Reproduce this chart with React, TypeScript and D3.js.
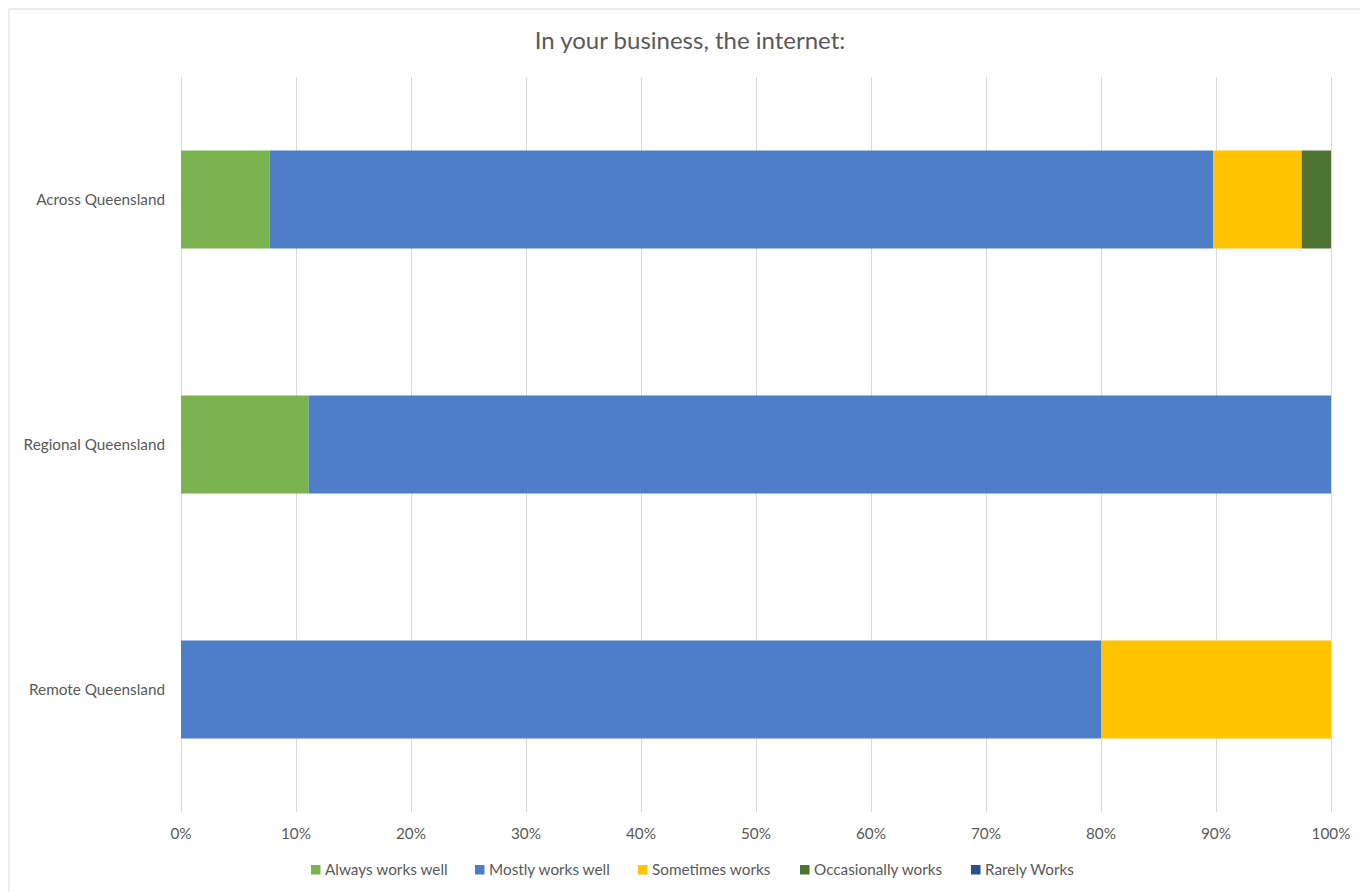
import React from "react";
import * as d3 from "d3";

const categories = ["Across Queensland", "Regional Queensland", "Remote Queensland"];
const seriesNames = ["Always works well", "Mostly works well", "Sometimes works", "Occasionally works", "Rarely Works"];
const alwaysWorksWell = [7.7, 11.1, 0];
const mostlyWorksWell = [82.05, 88.9, 80];
const sometimesWorks = [7.7, 0, 20];
const occasionallyWorks = [2.55, 0, 0];
const rarelyWorks = [0, 0, 0];
const xTicks = [0, 10, 20, 30, 40, 50, 60, 70, 80, 90, 100];
const colors = ["#7BB351", "#4E7EC8", "#FFC300", "#4D7433", "#2B4E8C"];

const W = 1360;
const H = 892;
const FONT = "Lato, 'Open Sans', sans-serif";
const TXT = "#595959";

export default function App() {
  const seriesValues = [alwaysWorksWell, mostlyWorksWell, sometimesWorks, occasionallyWorks, rarelyWorks];
  const rows = categories.map((c, i) => {
    const r: any = { cat: c };
    seriesNames.forEach((s, j) => (r[s] = seriesValues[j][i]));
    return r;
  });
  const stacked = d3.stack<any>().keys(seriesNames)(rows);
  const x = d3.scaleLinear().domain([0, 100]).range([181, 1331]);
  const y = d3.scaleBand().domain(categories).range([77, 812]).paddingInner(0.6).paddingOuter(0.3);

  const legendItems = seriesNames.map((s, i) => ({ s, c: colors[i] }));
  const legendX = [311, 475, 638, 800, 971];

  return (
    <svg width={W} height={H} style={{ position: "absolute", left: 0, top: 0, background: "#fff" }}>
      <rect x={9} y={9} width={W} height={H} fill="#fff" stroke="#d9d9d9" strokeWidth={1} />
      <text x={690} y={49} textAnchor="middle" fontFamily={FONT} fontSize={24} fill={TXT}>
        In your business, the internet:
      </text>
      {xTicks.map((t) => (
        <line key={t} x1={Math.round(x(t)) + 0.5} x2={Math.round(x(t)) + 0.5} y1={77} y2={812} stroke="#d9d9d9" strokeWidth={1} />
      ))}
      {xTicks.map((t) => (
        <text key={"l" + t} x={x(t)} y={839} textAnchor="middle" fontFamily={FONT} fontSize={15.3} fill={TXT}>
          {t}%
        </text>
      ))}
      {categories.map((c) => (
        <text key={c} x={165} y={y(c)! + y.bandwidth() / 2 + 5} textAnchor="end" fontFamily={FONT} fontSize={15.3} fill={TXT}>
          {c}
        </text>
      ))}
      {stacked.map((layer, j) => (
        <g key={layer.key} fill={colors[j]}>
          {layer.map((d, i) =>
            d[1] - d[0] > 0 ? (
              <rect key={i} x={x(d[0])} y={y(categories[i])} width={x(d[1]) - x(d[0])} height={y.bandwidth()} />
            ) : null
          )}
        </g>
      ))}
      {legendItems.map((it, i) => (
        <g key={it.s}>
          <rect x={legendX[i]} y={865} width={9.5} height={9.5} fill={it.c} />
          <text x={legendX[i] + 14} y={875} fontFamily={FONT} fontSize={15.3} fill={TXT}>
            {it.s}
          </text>
        </g>
      ))}
    </svg>
  );
}
